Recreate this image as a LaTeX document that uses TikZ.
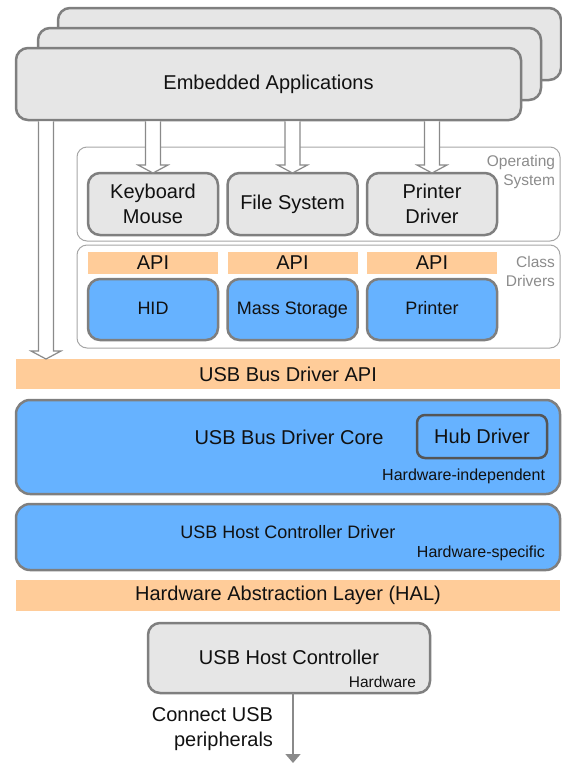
\documentclass[tikz,border=0pt]{standalone}
\usepackage{fontspec}
\setmainfont{Liberation Sans}
\usetikzlibrary{calc,arrows.meta}
\definecolor{boxgray}{HTML}{E6E6E6}
\definecolor{edgegray}{HTML}{7F7F7F}
\definecolor{blu}{HTML}{66B2FF}
\definecolor{orng}{HTML}{FFCC99}
\definecolor{contgray}{HTML}{A6A6A6}
\definecolor{labgray}{HTML}{8C8C8C}
\definecolor{arrgray}{HTML}{8A8A8A}
\definecolor{hubedge}{HTML}{555555}
\definecolor{txt}{HTML}{111111}
\begin{document}
\begin{tikzpicture}[x=1pt,y=-1pt,
 font=\fontsize{20}{25}\selectfont,
 every node/.style={inner sep=0pt, outer sep=0pt, text=txt},
 graybox/.style={draw=edgegray, fill=boxgray, line width=2.5pt, rounded corners=12pt},
 bluebox/.style={draw=edgegray, fill=blu, line width=2.5pt, rounded corners=12pt},
 container/.style={draw=contgray, fill=white, line width=1pt, rounded corners=10pt},
 apibar/.style={fill=orng},
 smalltext/.style={font=\fontsize{16}{19}\selectfont},
 sidelabel/.style={font=\fontsize{15.5}{19}\selectfont, text=labgray, align=right, anchor=east},
 classfont/.style={font=\fontsize{18}{22}\selectfont, text height=13pt, text depth=3.5pt},
 hollowarrow/.style={draw=arrgray, fill=white, line width=1.2pt, line join=miter,
   to path={($(\tikztostart)+(-7.5pt,0pt)$) -- ($(\tikztotarget)+(-7.5pt,8pt)$) -- ($(\tikztotarget)+(-15pt,8pt)$) -- (\tikztotarget) -- ($(\tikztotarget)+(15pt,8pt)$) -- ($(\tikztotarget)+(7.5pt,8pt)$) -- ($(\tikztostart)+(7.5pt,0pt)$)}},
 plainarrow/.style={draw=arrgray, line width=1.5pt, -{Triangle[width=15pt,length=9pt]}},
]
\path[use as bounding box] (0,0) rectangle (562,764);

% application stack
\node[graybox, minimum width=503pt, minimum height=72pt] (back3) at (309.5,44) {};
\node[graybox, minimum width=503pt, minimum height=72pt] (back2) at (289.5,64) {};
\node[graybox, minimum width=505pt, minimum height=72pt] (emb) at (268.5,84) {Embedded Applications};

% containers
\node[container, minimum width=483pt, minimum height=94pt] (os) at (318.5,194) {};
\node[container, minimum width=483pt, minimum height=103pt] (cls) at (318.5,296.5) {};

% OS boxes
\node[graybox, minimum width=130pt, minimum height=62pt, align=center] (kb) at (153,204) {Keyboard\\Mouse};
\node[graybox, minimum width=130pt, minimum height=62pt] (fs) at (292.5,204) {File System};
\node[graybox, minimum width=130pt, minimum height=62pt, align=center] (pd) at (432,204) {Printer\\Driver};

% API bars
\node[apibar, minimum width=130pt, minimum height=22pt] (api1) at (153,263) {API};
\node[apibar, minimum width=130pt, minimum height=22pt] (api2) at (292.5,263) {API};
\node[apibar, minimum width=130pt, minimum height=22pt] (api3) at (432,263) {API};

% class drivers
\node[bluebox, classfont, minimum width=130pt, minimum height=61pt] (hid) at (153,309.5) {HID};
\node[bluebox, classfont, minimum width=130pt, minimum height=61pt] (ms) at (292.5,309.5) {Mass Storage};
\node[bluebox, classfont, minimum width=130pt, minimum height=61pt] (pr) at (432,309.5) {Printer};

% side labels
\node[sidelabel] (oslab) at (555,171.5) {Operating\\System};
\node[sidelabel] (cdlab) at (555,271) {Class\\Drivers};

% bus driver
\node[apibar, minimum width=544pt, minimum height=30pt] (busapi) at (288,374) {USB Bus Driver API};
\node[bluebox, rounded corners=14pt, minimum width=544pt, minimum height=94pt] (core) at (288,447) {};
\node (coretxt) at (289,437) {USB Bus Driver Core};
\node[draw=hubedge, fill=blu, line width=2.5pt, rounded corners=8pt, minimum width=130pt, minimum height=43pt] (hub) at (482,436.5) {Hub Driver};
\node[smalltext, anchor=east] (hwind) at (545,476) {Hardware-independent};

% host controller driver
\node[bluebox, rounded corners=14pt, minimum width=544pt, minimum height=66pt] (hcd) at (288,537) {};
\node[classfont] (hcdtxt) at (288,534) {USB Host Controller Driver};
\node[smalltext, anchor=east] (hwspec) at (545,553) {Hardware-specific};

% HAL
\node[apibar, minimum width=544pt, minimum height=31pt] (hal) at (288,595.5) {Hardware Abstraction Layer (HAL)};

% host controller
\node[graybox, minimum width=282pt, minimum height=70pt] (hc) at (289,658) {};
\node (hctxt) at (289,657) {USB Host Controller};
\node[font=\fontsize{15.5}{18}\selectfont, anchor=east] (hwlab) at (416,682) {Hardware};

\node[align=right, anchor=north east, font=\fontsize{20}{25}\selectfont] (conn) at (273,708) {Connect USB\\peripherals};

% arrows
\coordinate (lstart) at ($(emb.south west)+(30,1.3)$);
\draw[hollowarrow] (lstart) to (lstart |- busapi.north);
\draw[hollowarrow] ($(kb.north |- emb.south)+(0,1.3)$) to (kb.north);
\draw[hollowarrow] ($(fs.north |- emb.south)+(0,1.3)$) to (fs.north);
\draw[hollowarrow] ($(pd.north |- emb.south)+(0,1.3)$) to (pd.north);

\coordinate (periph) at (293,763);
\draw[plainarrow] (hc.south -| periph) -- (periph);
\end{tikzpicture}
\end{document}
